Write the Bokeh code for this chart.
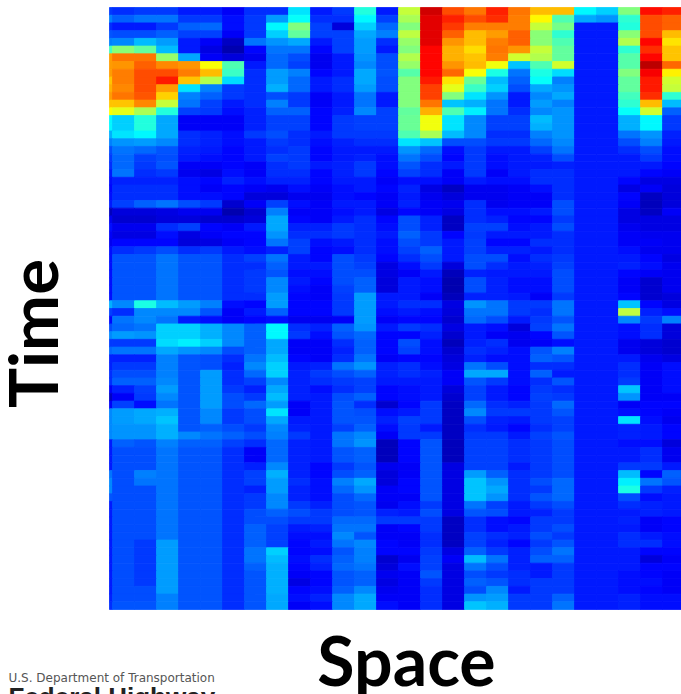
from bokeh.plotting import figure
from bokeh.models import ColumnDataSource, Label, LinearColorMapper
from bokeh.transform import transform
from bokeh.embed import file_html
from bokeh.resources import INLINE
import numpy as np

# Cell intensity (0-100 on a jet scale); one list per time step, one entry per space bin
t00 = [18,17,18,18,15,15,12,17,17,35,15,18,41,15,57,92,80,76,84,76,69,69,37,33,50,86,84]
t01 = [25,22,24,24,18,18,14,18,28,38,17,17,37,19,54,90,84,80,83,75,63,45,29,27,42,80,78]
t02 = [17,15,15,18,22,23,14,18,37,50,19,9,33,23,50,90,82,75,75,75,57,49,15,15,41,80,78]
t03 = [21,20,20,22,19,19,12,18,33,47,19,19,29,25,56,90,78,69,72,78,51,42,15,15,51,80,69]
t04 = [25,26,31,28,15,12,7,24,27,29,15,19,28,17,52,90,73,69,75,78,51,45,15,15,55,87,65]
t05 = [44,51,47,31,15,10,5,13,24,24,13,19,28,15,50,87,70,66,76,73,57,47,15,15,42,83,68]
t06 = [72,76,76,52,29,12,9,11,23,20,11,15,27,20,55,87,70,68,75,58,55,47,15,15,46,87,68]
t07 = [72,73,78,74,73,62,45,15,23,19,11,15,26,20,52,87,73,69,61,32,45,58,15,15,46,94,77]
t08 = [72,75,80,80,75,69,43,17,28,25,13,15,29,21,46,87,77,62,40,24,40,34,15,15,50,88,64]
t09 = [68,75,80,85,68,55,34,17,28,23,15,17,29,20,50,85,65,48,31,22,38,25,15,15,47,85,58]
t10 = [70,74,80,72,35,25,18,17,30,23,15,17,28,20,50,81,60,43,33,20,29,27,15,15,47,85,57]
t11 = [72,76,79,67,25,22,18,17,20,18,12,15,24,15,50,81,50,35,27,15,26,29,15,15,44,83,42]
t12 = [68,68,74,57,24,19,15,17,25,18,12,15,24,15,50,76,32,30,24,15,28,25,15,15,42,69,31]
t13 = [62,60,54,41,19,18,14,16,22,22,13,16,26,19,47,70,45,36,24,17,26,27,15,15,38,58,22]
t14 = [37,33,41,29,12,12,12,16,19,19,13,18,19,19,48,61,35,26,19,19,31,27,15,15,30,37,18]
t15 = [37,33,41,29,12,12,12,16,19,19,13,18,19,19,48,61,35,26,19,19,30,27,15,15,30,37,18]
t16 = [30,35,37,29,17,16,14,18,20,17,15,18,18,18,45,54,31,26,17,17,25,27,15,15,24,27,16]
t17 = [25,27,28,26,17,16,14,15,18,17,14,16,17,17,35,32,20,20,18,18,23,26,15,15,20,25,15]
t18 = [20,24,23,21,16,15,13,15,17,18,13,15,15,15,27,23,14,18,15,15,19,24,15,15,17,20,14]
t19 = [18,23,19,20,15,14,13,15,19,18,13,15,16,14,24,20,13,18,14,15,16,20,15,15,15,18,14]
t20 = [17,23,18,21,12,12,13,12,17,18,15,16,18,14,21,17,15,18,14,15,15,16,15,15,15,15,13]
t21 = [15,24,17,18,11,10,14,12,17,17,13,16,18,13,19,17,12,18,12,15,17,17,15,15,15,13,12]
t22 = [14,16,16,16,14,13,16,14,16,16,13,15,15,12,14,14,12,15,14,14,17,17,15,15,13,10,10]
t23 = [13,17,17,17,14,12,13,12,11,14,12,14,15,13,16,10,7,11,11,12,14,17,15,15,10,12,9]
t24 = [14,17,17,17,14,14,13,9,9,11,11,14,13,12,15,11,9,11,11,12,12,17,15,15,13,7,9]
t25 = [15,19,22,24,20,18,8,12,19,14,12,15,15,12,16,12,11,17,11,12,12,20,15,15,12,6,9]
t26 = [6,9,9,10,11,11,5,8,25,12,12,14,15,10,13,12,10,17,14,14,15,20,15,15,10,7,12]
t27 = [11,8,8,9,9,8,8,9,29,13,12,15,17,13,20,16,7,17,16,13,13,18,15,15,10,10,10]
t28 = [14,11,11,17,19,13,12,15,29,16,16,18,17,14,20,16,7,19,19,14,15,20,15,15,11,10,10]
t29 = [12,10,10,14,10,12,13,13,27,17,17,18,17,15,22,18,13,18,15,15,15,17,15,15,12,11,11]
t30 = [11,13,13,13,9,10,12,13,24,19,14,15,17,14,20,18,15,19,13,13,17,17,15,15,12,12,11]
t31 = [14,17,18,20,17,18,15,14,16,19,13,14,17,14,19,22,15,19,16,16,15,17,15,15,14,11,11]
t32 = [14,21,21,24,21,21,17,19,24,15,13,20,18,13,17,20,15,20,20,14,17,18,15,15,15,13,10]
t33 = [14,21,21,24,21,21,17,17,22,15,15,20,19,10,14,18,9,20,17,15,16,19,15,15,16,14,11]
t34 = [14,21,21,24,21,21,17,18,21,14,14,20,20,10,12,15,6,16,15,15,15,20,15,15,13,12,11]
t35 = [14,21,21,24,21,21,17,18,26,15,13,20,22,9,15,14,5,20,16,14,14,20,15,15,12,8,11]
t36 = [14,21,21,24,21,21,17,18,26,14,12,19,22,9,15,14,5,20,16,14,14,20,15,15,12,8,11]
t37 = [14,21,21,24,21,21,17,17,28,13,12,18,28,15,15,12,6,16,16,15,12,18,15,15,13,8,9]
t38 = [30,26,40,31,28,25,14,13,28,13,13,18,28,15,17,17,10,27,24,18,18,24,15,15,32,13,10]
t39 = [19,17,26,26,26,21,12,15,22,13,13,18,28,14,15,14,9,24,24,18,17,24,15,15,56,16,14]
t40 = [13,24,26,24,15,14,12,13,14,11,11,12,28,12,13,13,8,23,20,15,18,21,15,15,26,18,25]
t41 = [20,23,24,33,33,30,26,22,37,17,16,22,27,15,18,17,10,15,14,9,19,24,15,15,14,17,9]
t42 = [26,28,27,33,33,30,26,22,37,18,14,21,23,13,13,16,8,15,12,11,13,21,15,15,14,17,9]
t43 = [18,18,18,34,36,33,26,22,29,12,12,17,22,13,20,14,6,16,17,11,12,14,15,15,11,9,8]
t44 = [23,24,24,29,27,26,20,22,29,12,12,16,22,13,19,14,8,17,16,14,21,25,15,15,11,9,8]
t45 = [16,16,16,25,21,20,17,24,31,13,12,17,24,12,13,13,9,16,14,14,22,21,15,15,15,11,10]
t46 = [16,18,18,25,21,20,16,26,33,15,16,24,27,16,17,14,10,24,20,14,17,17,15,15,17,12,14]
t47 = [17,20,20,25,21,28,17,23,33,16,18,20,22,16,17,16,12,29,29,14,22,15,15,15,17,12,14]
t48 = [17,22,22,26,21,28,17,19,26,16,17,18,19,15,15,15,12,21,18,14,17,21,15,15,18,12,14]
t49 = [12,16,19,28,21,28,18,16,29,16,14,17,19,13,14,15,9,19,15,13,18,17,15,15,32,12,14]
t50 = [7,12,18,26,21,28,20,18,31,16,15,20,22,13,14,15,8,19,15,13,19,18,15,15,27,12,12]
t51 = [12,19,14,24,21,28,20,23,28,12,15,21,17,8,13,18,7,23,17,16,18,23,15,15,12,13,13]
t52 = [26,28,29,30,21,26,18,20,35,12,15,21,20,14,15,18,7,26,18,18,18,21,15,15,14,13,12]
t53 = [26,28,29,32,21,26,18,20,29,15,15,21,21,16,19,18,7,20,16,15,18,19,15,15,35,14,11]
t54 = [26,27,27,30,21,22,20,18,26,16,15,19,22,14,18,15,7,17,15,13,17,19,15,15,16,15,13]
t55 = [26,27,27,30,26,24,22,20,25,18,15,24,26,12,18,18,7,18,18,15,19,21,15,15,16,15,13]
t56 = [15,22,21,25,22,22,19,17,23,16,15,24,27,6,13,21,6,19,19,17,18,20,15,15,14,14,9]
t57 = [15,20,20,24,21,21,17,12,23,16,15,21,22,6,13,21,6,19,19,17,18,20,15,15,15,17,11]
t58 = [15,20,20,24,21,21,17,12,23,16,15,21,22,6,13,21,6,19,19,17,18,20,15,15,15,17,11]
t59 = [15,20,20,24,21,21,17,16,26,16,13,18,21,11,12,21,10,19,19,15,18,20,15,15,18,18,15]
t60 = [24,20,25,24,21,21,17,19,30,16,13,20,22,9,12,21,10,28,22,17,18,20,15,15,31,13,22]
t61 = [26,20,24,24,21,21,17,19,28,17,14,25,29,9,13,21,10,32,27,17,20,23,15,15,36,24,21]
t62 = [26,20,20,24,21,21,17,16,28,16,14,23,27,12,13,21,10,32,29,17,18,23,15,15,40,18,16]
t63 = [21,20,20,24,21,21,17,18,26,16,14,20,23,12,12,21,10,32,27,17,21,23,15,15,20,14,15]
t64 = [15,20,20,24,21,21,17,18,26,18,16,20,21,11,14,18,10,24,19,15,18,20,15,15,17,16,15]
t65 = [15,20,20,24,21,21,17,20,22,20,18,20,21,16,15,20,10,21,20,15,16,18,15,15,15,16,15]
t66 = [15,20,20,24,21,21,17,20,20,18,18,23,23,18,18,18,7,17,14,13,18,18,15,15,16,12,13]
t67 = [15,20,20,24,21,21,17,22,19,15,16,24,24,12,13,18,7,17,14,15,18,20,15,15,15,12,13]
t68 = [15,20,20,24,21,21,17,22,19,14,14,26,21,12,12,17,7,19,17,16,20,18,15,15,17,15,14]
t69 = [15,20,18,28,21,21,17,22,19,13,15,24,26,13,12,17,7,19,16,13,18,21,15,15,17,17,14]
t70 = [15,20,18,28,21,21,17,24,33,13,14,21,25,13,13,18,10,22,18,16,20,24,15,15,15,13,13]
t71 = [15,20,18,28,21,21,17,24,31,14,17,22,25,8,11,19,12,31,24,16,22,22,15,15,15,9,12]
t72 = [15,20,18,28,21,21,17,22,30,13,16,23,24,9,14,19,10,24,20,16,15,18,15,15,15,13,13]
t73 = [15,20,18,28,21,21,17,21,30,12,13,21,22,11,12,21,10,20,18,17,15,18,15,15,14,13,12]
t74 = [15,20,18,28,21,21,17,21,30,10,13,21,22,10,12,18,10,22,21,17,18,18,15,15,14,14,12]
t75 = [15,20,20,28,21,21,17,21,30,13,14,22,26,11,12,17,10,20,26,15,18,18,15,15,14,13,12]
t76 = [16,20,20,25,21,21,17,21,29,14,16,26,29,12,12,17,10,27,28,18,18,22,15,15,16,14,14]
t77 = [17,21,21,25,21,21,17,21,29,12,14,26,29,14,12,17,10,32,30,18,18,24,15,15,16,14,14]

x_title = "Space"
y_title = "Time"
agency_line = "U.S. Department of Transportation"
agency_name = "Federal Highway"

W, H = 681, 694
LEFT, TOP, HEAT_H = 109, 7, 602
CELL_PX = 22.0
COL_ONE_LEFT_PX = 112.0

rows = [globals()[f"t{i:02d}"] for i in range(78)]
n_rows, n_cols = len(rows), len(rows[0])
CELL_H = HEAT_H / n_rows

# data coordinates: column i spans i-0.5..i+0.5, row j spans j-0.5..j+0.5
def dx(px):
    return 0.5 + (px - COL_ONE_LEFT_PX) / CELL_PX

def dy(py):
    return -0.5 + (py - TOP) / CELL_H

edge_left, edge_right = dx(LEFT), dx(W)
ls, rs, ts, bs, vals = [], [], [], [], []
for r, row in enumerate(rows):
    for c, v in enumerate(row):
        ls.append(max(c - 0.5, edge_left)); rs.append(min(c + 0.5, edge_right))
        ts.append(r - 0.5); bs.append(r + 0.5); vals.append(v)
source = ColumnDataSource(dict(l=ls, r=rs, t=ts, b=bs, v=vals))

def jet():
    out = []
    for t in np.linspace(0, 1, 256):
        ch = [np.clip(1.5 - abs(4 * t - k), 0, 1) for k in (3, 2, 1)]
        out.append("#%02x%02x%02x" % tuple(int(round(255 * a)) for a in ch))
    return out

mapper = LinearColorMapper(palette=jet(), low=0, high=100)

p = figure(width=W, height=H, output_backend="svg", toolbar_location=None,
           x_range=(dx(0), dx(W)), y_range=(dy(H), dy(0)),
           min_border_left=0, min_border_top=0, min_border_right=0, min_border_bottom=0)
p.axis.visible = False
p.grid.visible = False
p.outline_line_color = None
p.styles = {"position": "absolute", "left": "0", "top": "0"}

color = transform("v", mapper)
p.quad(left="l", right="r", top="t", bottom="b", source=source, fill_color=color,
       line_color=color, line_width=0.8)

def label(text, px, py, size, style, col, angle=0.0, align="left", base="top", font="Lato"):
    p.add_layout(Label(x=dx(px), y=dy(py), text=text, text_font=font, text_font_size=f"{size}px",
                       text_font_style=style, text_color=col, angle=angle, text_align=align, text_baseline=base))

label(x_title, 406, 659, 68, "bold", "#000000", align="center", base="alphabetic")
label(y_title, 31, 333, 67, "bold", "#000000", angle=np.pi / 2, align="center", base="alphabetic")
label(agency_line, 8, 677, 12, "normal", "#555555", base="alphabetic", font="DejaVu Sans")
label(agency_name, 8, 696, 26, "bold", "#222222", base="alphabetic", font="Liberation Sans")

open("out.html", "w").write(file_html(p, INLINE))
